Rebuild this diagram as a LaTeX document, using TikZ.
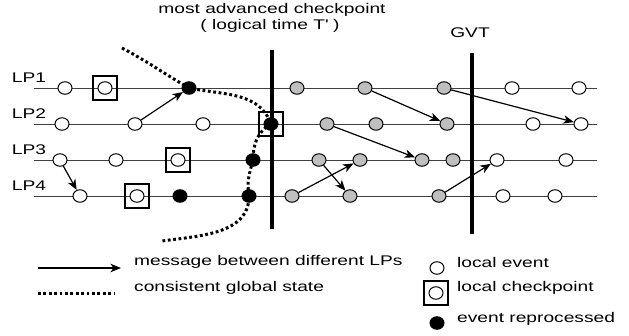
\documentclass[tikz,border=0pt]{standalone}
\usepackage{fontspec}
\setmainfont{Liberation Sans}[FakeStretch=1.37]
\usetikzlibrary{arrows.meta,backgrounds,shapes.geometric,positioning}

\begin{document}
\begin{tikzpicture}[x=1pt,y=1pt,
  font=\fontsize{14}{16}\selectfont,
  evt/.style={ellipse,draw,line width=1pt,fill=white,minimum width=14pt,minimum height=12.5pt,inner sep=0pt},
  gev/.style={evt,fill=black!25},
  rev/.style={evt,fill=black},
  ckpt/.style={draw,line width=1.1pt,minimum size=24pt,inner sep=0pt},
  lp/.style={black!75,line width=0.8pt},
  cut/.style={line width=3.5pt},
  msg/.style={-{Stealth[length=10.5pt,width=8.5pt,inset=3pt]},line width=1.2pt},
  gstate/.style={line width=3pt,dash pattern=on 2.8pt off 2.6pt},
  lbl/.style={inner sep=0pt}]
\useasboundingbox (0,0) rectangle (629,336);

% LP1
\node[evt] (e11) at (65,248) {};
\node[ckpt] (k11) at (105,248) {}; \node[evt] (k11c) at (k11) {};
\node[rev] (r11) at (189,248) {};
\node[gev] (g11) at (297,248) {};
\node[gev] (g12) at (365,248) {};
\node[gev] (g13) at (444,248) {};
\node[evt] (e12) at (512,248) {};
\node[evt] (e13) at (579,248) {};
% LP2
\node[evt] (e21) at (62,212) {};
\node[evt] (e22) at (135,212) {};
\node[evt] (e23) at (203,212) {};
\node[ckpt] (k21) at (271,212) {}; \node[rev] (k21c) at (k21) {};
\node[gev] (g21) at (327,212) {};
\node[gev] (g22) at (376,212) {};
\node[gev] (g23) at (447,212) {};
\node[evt] (e24) at (533,212) {};
\node[evt] (e25) at (581,212) {};
% LP3
\node[evt] (e31) at (60,176) {};
\node[evt] (e32) at (116,176) {};
\node[ckpt] (k31) at (178,176) {}; \node[evt] (k31c) at (k31) {};
\node[rev] (r31) at (253,176) {};
\node[gev] (g31) at (319,176) {};
\node[gev] (g32) at (360,176) {};
\node[gev] (g33) at (422,176) {};
\node[gev] (g34) at (453,176) {};
\node[evt] (e33) at (497,176) {};
\node[evt] (e34) at (566,176) {};
% LP4
\node[evt] (e41) at (80,140) {};
\node[ckpt] (k41) at (137,140) {}; \node[evt] (k41c) at (k41) {};
\node[rev] (r41) at (180,140) {};
\node[rev] (r42) at (249,140) {};
\node[gev] (g41) at (292,140) {};
\node[gev] (g42) at (350,140) {};
\node[gev] (g43) at (439,140) {};
\node[evt] (e42) at (503,140) {};
\node[evt] (e43) at (555,140) {};

% time lines and the global state
\begin{scope}[on background layer]
  \foreach \i/\y in {1/248,2/212,3/176,4/140}{
    \node[lbl] (lp\i) at (29,\y+10) {LP\i};
    \coordinate (s\i) at (34,\y);
    \coordinate (t\i) at (597,\y);
    \draw[lp] (s\i) -- (t\i);
  }
  \coordinate (gs0) at (122,288);
  \coordinate (gs1) at (162,95);
  \draw[gstate] (gs0) to[out=-28,in=150] (r11.center) to[out=-12,in=110] (k21c.center)
    to[out=-150,in=90] (r31.center) to[out=-105,in=100] (r42.center) to[out=-90,in=8] (gs1);
\end{scope}

% messages
\draw[msg] (e22) -- (r11);
\draw[msg] (e31) -- (e41);
\draw[msg] (g12) -- (g23);
\draw[msg] (g13) -- (e25);
\draw[msg] (g21) -- (g33);
\draw[msg] (g31) -- (g42);
\draw[msg] (g41) -- (g32);
\draw[msg] (g43) -- (e33);

% checkpoint line and GVT
\coordinate (cp0) at (272,286); \coordinate (cp1) at (272,107);
\coordinate (gv0) at (472,283); \coordinate (gv1) at (472,102);
\draw[cut] (cp0) -- (cp1);
\draw[cut] (gv0) -- (gv1);
\node[lbl] (tcp) at (272,326) {most advanced checkpoint};
\node[lbl] (tlt) at (270,310) {( logical time T\textquotesingle\ )};
\node[lbl] (tgvt) at (470,303) {GVT};

% legend
\coordinate (la0) at (38,68); \coordinate (la1) at (121,68);
\draw[msg] (la0) -- (la1);
\node[lbl,anchor=west] (tmsg) at (134,74) {message between different LPs};
\coordinate (ld0) at (38,42); \coordinate (ld1) at (115,42);
\draw[gstate] (ld0) -- (ld1);
\node[lbl,anchor=west] (tgs) at (134,48) {consistent global state};
\node[evt] (lev) at (437,68) {};
\node[lbl,anchor=west] (tev) at (457,73) {local event};
\node[ckpt] (lck) at (436,43) {}; \node[evt] (lckc) at (lck) {};
\node[lbl,anchor=west] (tck) at (457,48) {local checkpoint};
\node[rev] (lre) at (437,13) {};
\node[lbl,anchor=west] (tre) at (457,17) {event reprocessed};
\end{tikzpicture}
\end{document}
